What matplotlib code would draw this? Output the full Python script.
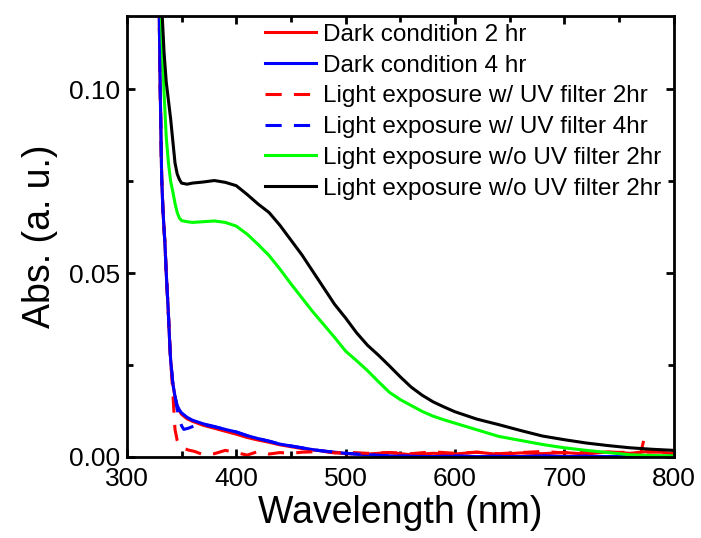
import numpy as np
import matplotlib.pyplot as plt
from matplotlib.ticker import MultipleLocator

plt.rcParams['font.family'] = ['Liberation Sans', 'DejaVu Sans']

# values
wl_dark = [326, 328, 329.6, 330.5, 331.8, 333, 334.8, 336, 337.8, 339, 340, 342, 344, 346, 348,
           350, 355, 360, 370, 380, 390, 400, 410, 420, 430, 440, 450, 460, 470, 480, 490, 500,
           520, 540, 560, 580, 600, 620, 640, 660, 680, 700, 720, 740, 760, 780, 800]
dark_4hr = [0.15, 0.14, 0.12, 0.100, 0.076, 0.067, 0.058, 0.050, 0.040, 0.032, 0.0264, 0.020, 0.0165,
            0.014, 0.0128, 0.0120, 0.0108, 0.0100, 0.0090, 0.0083, 0.0075, 0.0068, 0.0058, 0.0050,
            0.0043, 0.0035, 0.0030, 0.0025, 0.0020, 0.0016, 0.0013, 0.0010, 0.0006, 0.0003, 0.0002,
            0.0001, 0.0003, 0.0001, 0.0002, 0.0001, 0.0003, 0.0001, 0.0002, 0.0001, 0.0002, 0.0001, 0.0002]
dark_2hr = [0.15, 0.14, 0.12, 0.100, 0.076, 0.067, 0.058, 0.050, 0.040, 0.032, 0.0264, 0.020, 0.0163,
            0.0138, 0.0125, 0.0116, 0.0104, 0.0097, 0.0086, 0.0078, 0.0070, 0.0062, 0.0053, 0.0046,
            0.0040, 0.0033, 0.0028, 0.0023, 0.0019, 0.0016, 0.0012, 0.0009, 0.0008, 0.0012, 0.0006,
            0.0010, 0.0008, 0.0013, 0.0007, 0.0011, 0.0009, 0.0012, 0.0008, 0.0014, 0.0010, 0.0016, 0.0009]

wl_uv = [326, 328, 329.6, 330.5, 331.8, 333, 334.8, 336, 337.8, 339, 340, 342, 344, 346, 348, 350,
         352, 356, 362, 370, 380, 390, 400, 410, 420, 430, 440, 450, 460, 470, 480, 490, 500, 520,
         540, 560, 580, 600, 620, 640, 660, 680, 700, 720, 740, 760, 770, 773, 776, 780, 800]
uv_4hr = [0.15, 0.14, 0.12, 0.100, 0.076, 0.067, 0.058, 0.050, 0.040, 0.032, 0.0264, 0.020, 0.0165,
          0.013, 0.0105, 0.0085, 0.0075, 0.0078, 0.0085, 0.0088, 0.0082, 0.0075, 0.0068, 0.0058,
          0.0050, 0.0043, 0.0035, 0.0030, 0.0025, 0.0020, 0.0016, 0.0013, 0.0010, 0.0006, 0.0003,
          0.0002, 0.0001, 0.0002, 0.0001, 0.0002, 0.0001, 0.0002, 0.0001, 0.0002, 0.0001, 0.0002,
          0.0001, 0.0002, 0.0001, 0.0001, 0.0001]
uv_2hr = [0.15, 0.14, 0.12, 0.100, 0.076, 0.067, 0.058, 0.050, 0.040, 0.032, 0.0264, 0.0175, 0.0075,
          0.0045, 0.0032, 0.0027, 0.0024, 0.0019, 0.0015, 0.0006, 0.0009, 0.0018, 0.0012, 0.0005,
          0.0015, 0.0008, 0.0012, 0.0010, 0.0013, 0.0014, 0.0015, 0.0011, 0.0013, 0.0010, 0.0012,
          0.0009, 0.0014, 0.0010, 0.0013, 0.0009, 0.0012, 0.0015, 0.0011, 0.0014, 0.0012, 0.0013,
          0.0012, 0.0050, 0.0013, 0.0013, 0.0015]

wl_nouv = [330, 332, 334, 336, 338, 340, 342, 344, 346, 348, 350, 355, 360, 370, 380, 390, 400, 410,
           420, 430, 440, 450, 460, 470, 480, 490, 500, 510, 520, 530, 540, 550, 560, 570, 580, 590,
           600, 620, 640, 660, 680, 700, 720, 740, 760, 780, 800]
nouv_a = [0.135, 0.115, 0.099, 0.087, 0.080, 0.075, 0.0722, 0.0690, 0.0665, 0.0650, 0.0643, 0.0640,
          0.0638, 0.0640, 0.0642, 0.0638, 0.0628, 0.0606, 0.0578, 0.0548, 0.0511, 0.0471, 0.0433,
          0.0395, 0.0360, 0.0325, 0.0288, 0.0262, 0.0235, 0.0205, 0.0176, 0.0156, 0.0140, 0.0124,
          0.0111, 0.0101, 0.0092, 0.0074, 0.0056, 0.0045, 0.0034, 0.0025, 0.0018, 0.0012, 0.0006,
          0.0004, 0.0003]
nouv_b = [0.135, 0.122, 0.110, 0.102, 0.097, 0.092, 0.086, 0.080, 0.077, 0.0755, 0.0745, 0.0742,
          0.0745, 0.0748, 0.0752, 0.0747, 0.0738, 0.0714, 0.0688, 0.0665, 0.0630, 0.0590, 0.0550,
          0.0505, 0.0460, 0.0415, 0.0378, 0.0338, 0.0304, 0.0277, 0.0248, 0.0218, 0.0190, 0.0168,
          0.0150, 0.0136, 0.0123, 0.0103, 0.0088, 0.0072, 0.0057, 0.0047, 0.0038, 0.0031, 0.0025,
          0.0021, 0.0018]

labels = ['Dark condition 2 hr', 'Dark condition 4 hr', 'Light exposure w/ UV filter 2hr',
          'Light exposure w/ UV filter 4hr', 'Light exposure w/o UV filter 2hr',
          'Light exposure w/o UV filter 2hr']

fig = plt.figure(figsize=(7.01, 5.38), dpi=100)
ax = fig.add_axes([0.181, 0.1506, 0.780, 0.820])

lw = 2.2
dash = (5.3, 4.0)
ax.plot(wl_dark, dark_2hr, color='#ff0000', lw=lw, label=labels[0])
ax.plot(wl_dark, dark_4hr, color='#0000ff', lw=lw, label=labels[1])
ax.plot(wl_uv, uv_2hr, color='#ff0000', lw=lw, dashes=dash, label=labels[2])
ax.plot(wl_uv, uv_4hr, color='#0000ff', lw=lw, dashes=dash, label=labels[3])
ax.plot(wl_nouv, nouv_a, color='#00ff00', lw=lw, label=labels[4])
ax.plot(wl_nouv, nouv_b, color='#000000', lw=lw, label=labels[5])

ax.set_xlim(300, 800)
ax.set_ylim(0, 0.12)
ax.xaxis.set_major_locator(MultipleLocator(100))
ax.xaxis.set_minor_locator(MultipleLocator(50))
ax.yaxis.set_major_locator(MultipleLocator(0.05))
ax.yaxis.set_minor_locator(MultipleLocator(0.025))
ax.yaxis.set_major_formatter(plt.FormatStrFormatter('%.2f'))

for s in ax.spines.values():
    s.set_linewidth(2)
ax.tick_params(which='both', direction='in', top=True, right=True, width=2, labelsize=19)
ax.tick_params(which='major', length=6)
ax.tick_params(which='minor', length=4)
ax.tick_params(axis='x', pad=7)
ax.tick_params(axis='y', pad=5)

ax.set_xlabel('Wavelength (nm)', fontsize=27, labelpad=3)
ax.set_ylabel('Abs. (a. u.)', fontsize=27, labelpad=8)

ax.legend(loc='upper left', bbox_to_anchor=(0.252, 0.982), frameon=False, fontsize=17.5,
          borderpad=0, borderaxespad=0, labelspacing=0.36, handlelength=2.1, handletextpad=0.3)

fig.savefig('out.png', dpi=100)
